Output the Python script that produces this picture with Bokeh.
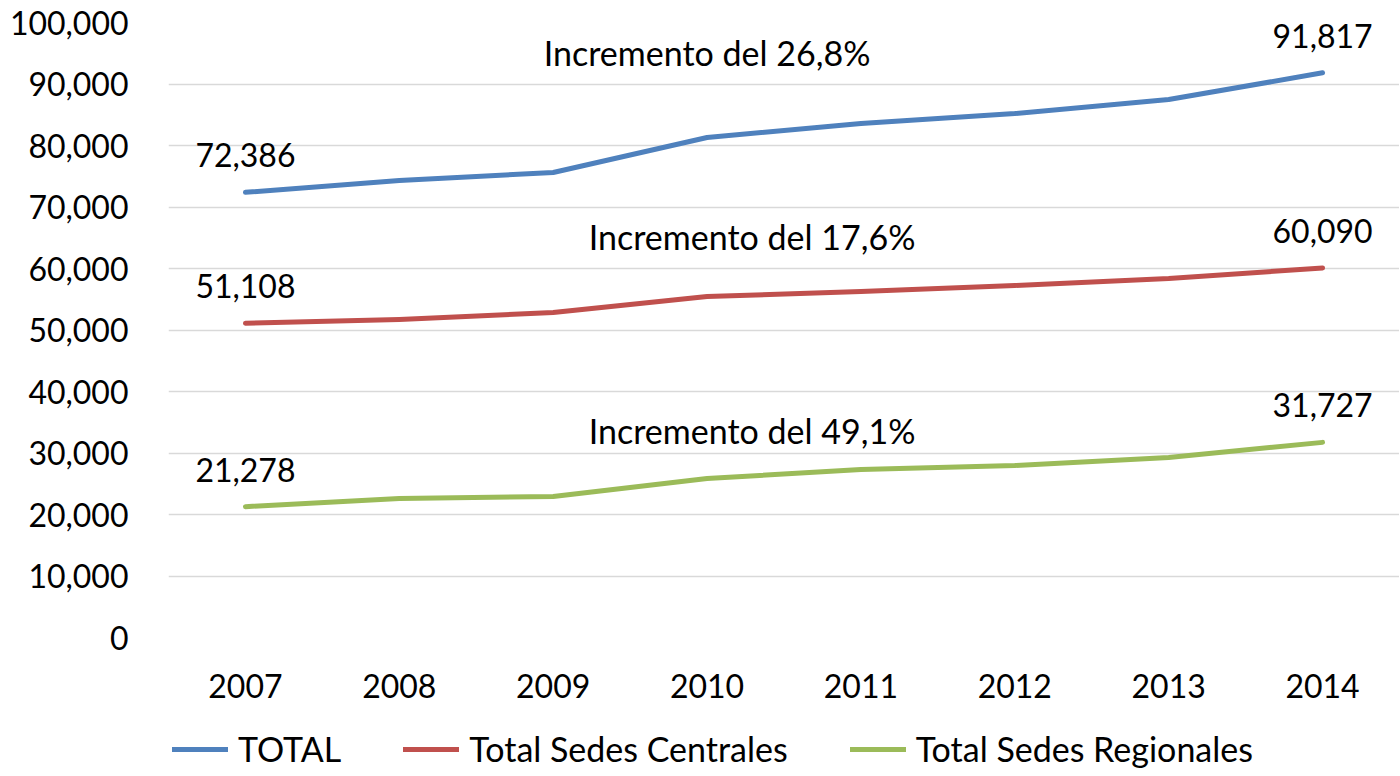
from bokeh.plotting import figure
from bokeh.layouts import column
from bokeh.models import (NumeralTickFormatter, Legend, LegendItem, FixedTicker,
                          Range1d, ColumnDataSource, LabelSet)
from bokeh.core.properties import value
from bokeh.embed import file_html
from bokeh.resources import INLINE

years = ["2007", "2008", "2009", "2010", "2011", "2012", "2013", "2014"]
total = [72386, 74310, 75610, 81300, 83580, 85200, 87480, 91817]
centrales = [51108, 51710, 52850, 55450, 56260, 57240, 58380, 60090]
regionales = [21278, 22600, 22930, 25850, 27320, 27970, 29270, 31727]
series_names = ["TOTAL", "Total Sedes Centrales", "Total Sedes Regionales"]
series_colors = ["#4f81bd", "#c0504d", "#9bbb59"]

inc_texts = ["Incremento del 26,8%", "Incremento del 17,6%", "Incremento del 49,1%"]
inc_year = ["2010", "2010", "2010"]
inc_y = [95100, 65200, 33700]
inc_dx = [0, 45, 45]

y_ticks = list(range(0, 100001, 10000))

FONT = "Lato"
FS = "32px"
W = 1399

p = figure(x_range=years, y_range=Range1d(0, 100000), width=W, height=709,
           output_backend="svg", toolbar_location=None,
           min_border_left=168, min_border_right=0, min_border_top=22,
           min_border_bottom=72)
p.outline_line_color = None
p.background_fill_color = "white"
p.border_fill_color = "white"

p.xgrid.grid_line_color = None
p.ygrid.grid_line_color = "#d9d9d9"
p.ygrid.grid_line_width = 1.5

p.yaxis.ticker = FixedTicker(ticks=y_ticks)
p.yaxis.formatter = NumeralTickFormatter(format="0,0")
for ax in (p.xaxis[0], p.yaxis[0]):
    ax.axis_line_color = None
    ax.major_tick_line_color = None
    ax.minor_tick_line_color = None
    ax.major_label_text_font = FONT
    ax.major_label_text_font_size = FS
    ax.major_label_text_color = "black"
p.yaxis.major_label_standoff = 34
p.xaxis.major_label_standoff = 30

# legend-only figure below the chart
pl = figure(x_range=p.x_range, y_range=Range1d(1e7, 1e7 + 1), width=W, height=66,
            output_backend="svg", toolbar_location=None,
            x_axis_type=None, y_axis_type=None,
            min_border_left=0, min_border_right=0, min_border_top=0, min_border_bottom=0)
pl.outline_line_color = None
pl.xgrid.grid_line_color = None
pl.ygrid.grid_line_color = None

items = []
for vals, name, col in zip([total, centrales, regionales], series_names, series_colors):
    p.line(years, vals, line_color=col, line_width=5, line_join="round", line_cap="round")
    r2 = pl.line(years, vals, line_color=col, line_width=5, line_cap="round")
    items.append(LegendItem(label=name, renderers=[r2]))

    src = ColumnDataSource(dict(x=[years[0], years[-1]], y=[vals[0], vals[-1]],
                                t=[f"{vals[0]:,}", f"{vals[-1]:,}"]))
    p.add_layout(LabelSet(x="x", y="y", text="t", source=src, text_align="center",
                          text_baseline="alphabetic", y_offset=25,
                          text_font=value(FONT), text_font_size=value(FS),
                          text_color="black"))

inc_src = ColumnDataSource(dict(x=inc_year, y=inc_y, t=inc_texts, dx=inc_dx))
p.add_layout(LabelSet(x="x", y="y", text="t", source=inc_src, x_offset="dx",
                      text_align="center", text_baseline="middle",
                      text_font=value(FONT), text_font_size=value("34px"),
                      text_color="black"))

legend = Legend(items=items, orientation="horizontal", location=(4, 6),
                label_text_font=FONT, label_text_font_size="34px",
                label_text_color="black",
                glyph_width=56, glyph_height=30, label_height=30,
                label_standoff=10, spacing=62,
                padding=0, margin=0, border_line_color=None,
                background_fill_alpha=0)
pl.add_layout(legend, "center")

layout = column(p, pl, spacing=0)
open("out.html", "w").write(file_html(layout, INLINE))
